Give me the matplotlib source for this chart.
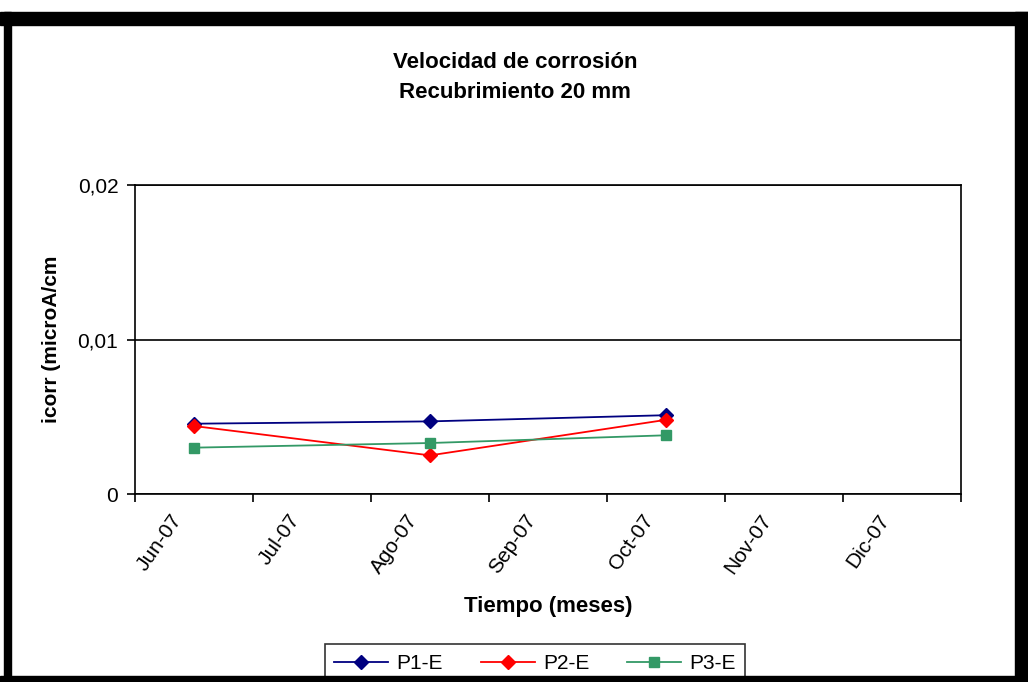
import matplotlib

matplotlib.use("Agg")
from matplotlib import pyplot as plt
from matplotlib.patches import Rectangle
from matplotlib.transforms import ScaledTranslation

# categories on the x axis (one per month) and the months that were measured
months = ["Jun-07", "Jul-07", "Ago-07", "Sep-07", "Oct-07", "Nov-07", "Dic-07"]
sample_months = ["Jun-07", "Ago-07", "Oct-07"]

# icorr values
p1_e = [0.00455, 0.0047, 0.0051]
p2_e = [0.0044, 0.0025, 0.0048]
p3_e = [0.0030, 0.0033, 0.0038]

y_ticks = [0, 0.01, 0.02]
y_tick_labels = ["0", "0,01", "0,02"]

plt.rcParams["font.family"] = ["Liberation Sans", "DejaVu Sans"]

W, H = 1028, 682
fig = plt.figure(figsize=(W / 100, H / 100), dpi=100)
fig.patch.set_facecolor("white")

ax = fig.add_axes([135 / W, (H - 494) / H, 826 / W, 309 / H])
x = [months.index(m) for m in sample_months]

series = [
    ("P1-E", p1_e, "#000080", "D", 7),
    ("P2-E", p2_e, "#FF0000", "D", 7),
    ("P3-E", p3_e, "#339966", "s", 7),
]
for label, values, color, marker, ms in series:
    ax.plot(x, values, color=color, lw=1.3, marker=marker, ms=ms,
            markerfacecolor=color, markeredgecolor=color, label=label)

ax.set_xlim(-0.5, len(months) - 0.5)
ax.set_ylim(0, 0.02)

# ticks between categories, labels at category centres
ax.set_xticks([i - 0.5 for i in range(len(months) + 1)])
ax.set_xticklabels([])
ax.set_xticks(range(len(months)), minor=True)
ax.set_xticklabels(months, minor=True, rotation=55, ha="right", va="top",
                   rotation_mode="anchor", fontsize=15)
ax.tick_params(axis="x", which="major", length=6, width=1.2, direction="out")
ax.tick_params(axis="x", which="minor", length=0, pad=12)
shift = ScaledTranslation(-0.24, 0, fig.dpi_scale_trans)
for lab in ax.get_xticklabels(minor=True):
    lab.set_transform(lab.get_transform() + shift)

ax.set_yticks(y_ticks)
ax.set_yticklabels(y_tick_labels, fontsize=15)
ax.tick_params(axis="y", length=6, width=1.2, direction="out", pad=6)
ax.grid(axis="y", color="black", lw=1.2)
for sp in ax.spines.values():
    sp.set_color("black")
    sp.set_linewidth(1.2)

ax.set_ylabel("icorr (microA/cm", fontsize=15, fontweight="bold", labelpad=12)
ax.set_xlabel("Tiempo (meses)", fontsize=16, fontweight="bold", labelpad=14)

fig.text(515 / W, (H - 62) / H, "Velocidad de corrosión", ha="center",
         va="center", fontsize=16, fontweight="bold")
fig.text(515 / W, (H - 93) / H, "Recubrimiento 20 mm", ha="center",
         va="center", fontsize=16, fontweight="bold")

leg = fig.legend(loc="upper center", bbox_to_anchor=(535 / W, (H - 634) / H),
                 ncol=3, fontsize=15, frameon=True, fancybox=False,
                 edgecolor="black", handlelength=2.6, columnspacing=1.8,
                 borderpad=0.45, handletextpad=0.4)
leg.get_frame().set_linewidth(1.2)

# thick black frame around the chart
for (x0, y0, w, h) in [(0, 12, W, 13), (4, 12, 7, H), (1015, 12, 13, H),
                       (0, 676, W, 6)]:
    fig.add_artist(Rectangle((x0 / W, 1 - (y0 + h) / H), w / W, h / H,
                             transform=fig.transFigure, color="black",
                             zorder=10))

fig.savefig("out.png", dpi=100)
